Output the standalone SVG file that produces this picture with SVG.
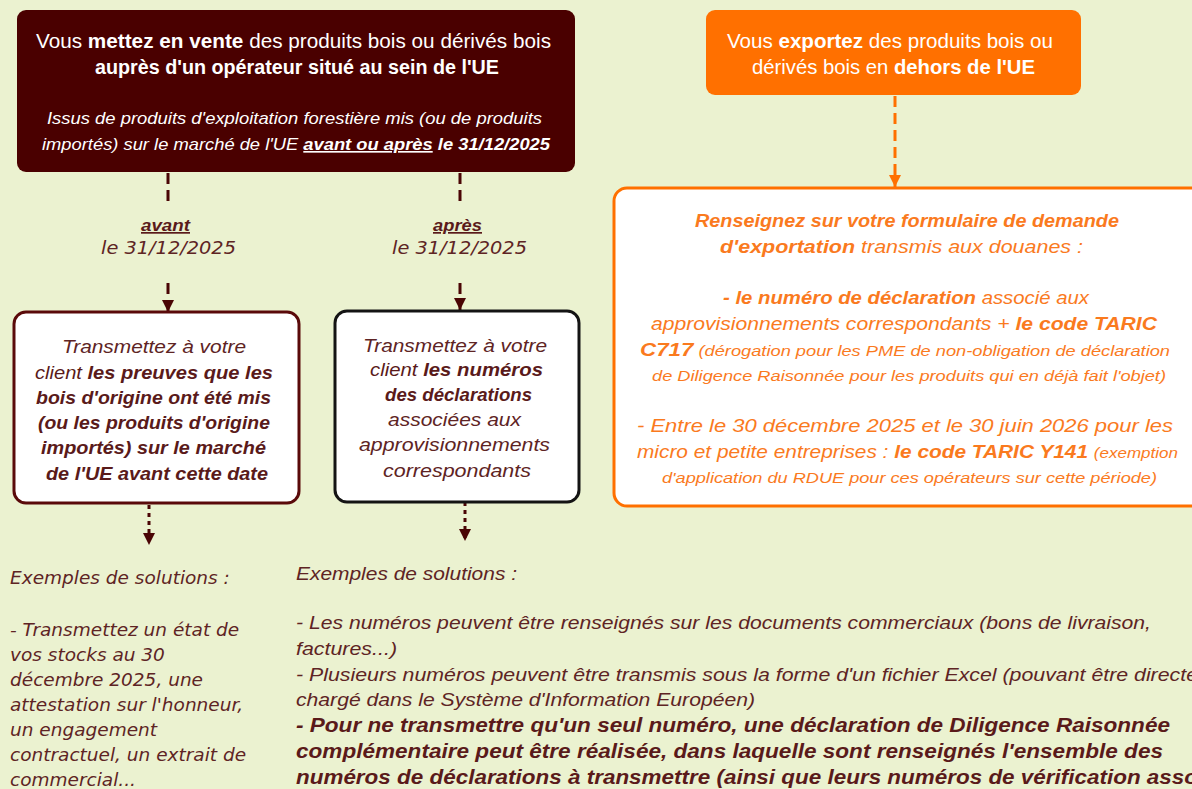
<svg xmlns="http://www.w3.org/2000/svg" width="1192" height="789" viewBox="0 0 1192 789">
<style>
.t{font-family:"Liberation Sans",Arial,sans-serif}
.v{font-family:"DejaVu Sans",Verdana,sans-serif}
.b{font-weight:bold}
.i{font-style:italic}
.u{text-decoration:underline}
.w{fill:#ffffff}
.o{fill:#FA7A1E}
.m{fill:#5A1A1A}
.mx{fill:#5E2424}
</style>
<defs>
<marker id="am" markerUnits="userSpaceOnUse" markerWidth="12" markerHeight="12" viewBox="0 0 12 12" refX="12" refY="6" orient="auto"><path d="M0,0 L12,6 L0,12 z" fill="#4A0505"/></marker>
<marker id="ao" markerUnits="userSpaceOnUse" markerWidth="12" markerHeight="12" viewBox="0 0 12 12" refX="12" refY="6" orient="auto"><path d="M0,0 L12,6 L0,12 z" fill="#FF7000"/></marker>
</defs>
<rect width="1192" height="789" fill="#EBF2D0"/>

<g id="connectors">
<path d="M168,173 V202" stroke="#4A0505" stroke-width="3" stroke-dasharray="11,6" fill="none"/>
<path d="M168,283 V312" stroke="#4A0505" stroke-width="3" stroke-dasharray="11,6" fill="none" marker-end="url(#am)"/>
<path d="M460,173 V202" stroke="#4A0505" stroke-width="3" stroke-dasharray="11,6" fill="none"/>
<path d="M460,283 V310" stroke="#4A0505" stroke-width="3" stroke-dasharray="11,6" fill="none" marker-end="url(#am)"/>
<path d="M895,96 V187" stroke="#FF7000" stroke-width="3" stroke-dasharray="11,6" fill="none" marker-end="url(#ao)"/>
<path d="M149,505 V545" stroke="#4A0505" stroke-width="3" stroke-dasharray="4,4" fill="none" marker-end="url(#am)"/>
<path d="M465,502 V541" stroke="#4A0505" stroke-width="3" stroke-dasharray="4,4" fill="none" marker-end="url(#am)"/>
</g>

<g id="n-vente">
<rect x="17" y="10" width="558" height="162" rx="9" fill="#4A0000"/>
<text class="t w" x="36" y="48" font-size="20" textLength="515" lengthAdjust="spacingAndGlyphs">Vous <tspan class="b">mettez en vente</tspan> des produits bois ou dérivés bois</text>
<text class="t w b" x="95" y="74" font-size="20" textLength="404" lengthAdjust="spacingAndGlyphs">auprès d'un opérateur situé au sein de l'UE</text>
<text class="t w i" x="47" y="124" font-size="16.5" textLength="495" lengthAdjust="spacingAndGlyphs">Issus de produits d'exploitation forestière mis  (ou de produits</text>
<text class="t w i" x="42" y="150" font-size="16.5" textLength="508" lengthAdjust="spacingAndGlyphs">importés) sur le marché de l'UE <tspan class="b u">avant ou après</tspan> <tspan class="b">le 31/12/2025</tspan></text>
</g>

<g id="l-avant">
<text class="t b i u m" x="141" y="231" font-size="17" textLength="49" lengthAdjust="spacingAndGlyphs">avant</text>
<text class="v i mx" x="101" y="254" font-size="17" textLength="135" lengthAdjust="spacingAndGlyphs">le 31/12/2025</text>
</g>
<g id="l-apres">
<text class="t b i u m" x="433" y="231" font-size="17" textLength="49" lengthAdjust="spacingAndGlyphs">après</text>
<text class="v i mx" x="392" y="254" font-size="17" textLength="135" lengthAdjust="spacingAndGlyphs">le 31/12/2025</text>
</g>

<g id="n-export">
<rect x="706" y="10" width="375" height="85" rx="9" fill="#FF7000"/>
<text class="t w" x="727" y="48" font-size="20" textLength="326" lengthAdjust="spacingAndGlyphs">Vous <tspan class="b">exportez</tspan> des produits bois ou</text>
<text class="t w" x="752" y="74" font-size="20" textLength="283" lengthAdjust="spacingAndGlyphs">dérivés bois en <tspan class="b">dehors de l'UE</tspan></text>
</g>

<g id="n-formulaire">
<rect x="614" y="188" width="600" height="318" rx="13" fill="#ffffff" stroke="#FF7000" stroke-width="3"/>
<text class="t o b i" x="695" y="227" font-size="19" textLength="424" lengthAdjust="spacingAndGlyphs">Renseignez sur votre formulaire de demande</text>
<text class="t o i" x="720" y="253" font-size="19" textLength="363" lengthAdjust="spacingAndGlyphs"><tspan class="b">d'exportation</tspan> transmis aux douanes :</text>
<text class="t o i" x="723" y="304" font-size="19" textLength="366" lengthAdjust="spacingAndGlyphs"><tspan class="b">- le numéro de déclaration</tspan> associé aux</text>
<text class="t o i" x="651" y="330" font-size="19" textLength="506" lengthAdjust="spacingAndGlyphs">approvisionnements correspondants + <tspan class="b">le code TARIC</tspan></text>
<text class="t o i" x="640" y="356" font-size="15.5" textLength="530" lengthAdjust="spacingAndGlyphs"><tspan class="b" font-size="19">C717</tspan> (dérogation pour les PME de non-obligation de déclaration</text>
<text class="t o i" x="652" y="381" font-size="15.5" textLength="514" lengthAdjust="spacingAndGlyphs">de Diligence Raisonnée pour les produits qui en déjà fait l'objet)</text>
<text class="t o i" x="637" y="432" font-size="19" textLength="536" lengthAdjust="spacingAndGlyphs">- Entre le 30 décembre 2025 et le 30 juin 2026 pour les</text>
<text class="t o i" x="637" y="458" font-size="19" textLength="541" lengthAdjust="spacingAndGlyphs">micro et petite entreprises : <tspan class="b">le code TARIC Y141</tspan> <tspan font-size="15.5">(exemption</tspan></text>
<text class="t o i" x="662" y="483" font-size="15.5" textLength="495" lengthAdjust="spacingAndGlyphs">d'application du RDUE pour ces opérateurs sur cette période)</text>
</g>

<g id="n-preuves">
<rect x="14" y="312" width="285" height="191" rx="12" fill="#ffffff" stroke="#5A0A0A" stroke-width="3"/>
<text class="t i mx" x="62" y="353" font-size="19" textLength="184" lengthAdjust="spacingAndGlyphs">Transmettez à votre</text>
<text class="t i m" x="35" y="379" font-size="19" textLength="238" lengthAdjust="spacingAndGlyphs">client <tspan class="b">les preuves que les</tspan></text>
<text class="t i b m" x="36" y="404" font-size="19" textLength="235" lengthAdjust="spacingAndGlyphs">bois d'origine ont été mis</text>
<text class="t i b m" x="38" y="429" font-size="19" textLength="232" lengthAdjust="spacingAndGlyphs">(ou les produits d'origine</text>
<text class="t i b m" x="41" y="454" font-size="19" textLength="225" lengthAdjust="spacingAndGlyphs">importés) sur le marché</text>
<text class="t i b m" x="46" y="480" font-size="19" textLength="222" lengthAdjust="spacingAndGlyphs">de l'UE avant cette date</text>
</g>

<g id="n-numeros">
<rect x="335" y="311" width="244" height="191" rx="12" fill="#ffffff" stroke="#141414" stroke-width="3"/>
<text class="t i mx" x="363" y="352" font-size="19" textLength="184" lengthAdjust="spacingAndGlyphs">Transmettez à votre</text>
<text class="t i m" x="370" y="376" font-size="19" textLength="173" lengthAdjust="spacingAndGlyphs">client <tspan class="b">les numéros</tspan></text>
<text class="t i b m" x="385" y="401" font-size="19" textLength="147" lengthAdjust="spacingAndGlyphs">des déclarations</text>
<text class="t i mx" x="388" y="426" font-size="19" textLength="133" lengthAdjust="spacingAndGlyphs">associées aux</text>
<text class="t i mx" x="359" y="451" font-size="19" textLength="191" lengthAdjust="spacingAndGlyphs">approvisionnements</text>
<text class="t i mx" x="383" y="477" font-size="19" textLength="148" lengthAdjust="spacingAndGlyphs">correspondants</text>
</g>

<g id="ex-avant">
<text class="v i mx" font-size="18.5">
<tspan x="10" y="584">Exemples de solutions :</tspan>
<tspan x="10" y="636">- Transmettez un état de</tspan>
<tspan x="10" y="661">vos stocks au 30</tspan>
<tspan x="10" y="686">décembre 2025, une</tspan>
<tspan x="10" y="711">attestation sur l'honneur,</tspan>
<tspan x="10" y="736">un engagement</tspan>
<tspan x="10" y="761">contractuel, un extrait de</tspan>
<tspan x="10" y="786">commercial...</tspan>
</text>
</g>

<g id="ex-apres">
<text class="t i mx" x="296" y="580" font-size="19" textLength="221" lengthAdjust="spacingAndGlyphs">Exemples de solutions :</text>
<text class="t i mx" x="296" y="629" font-size="19" textLength="855" lengthAdjust="spacingAndGlyphs">- Les numéros peuvent être renseignés sur les documents commerciaux (bons de livraison,</text>
<text class="t i mx" x="296" y="655" font-size="19" textLength="101" lengthAdjust="spacingAndGlyphs">factures...)</text>
<text class="t i mx" x="296" y="681" font-size="19" textLength="902" lengthAdjust="spacingAndGlyphs">- Plusieurs numéros peuvent être transmis sous la forme d'un fichier Excel (pouvant être directe</text>
<text class="t i mx" x="296" y="706" font-size="19" textLength="459" lengthAdjust="spacingAndGlyphs">chargé dans le Système d'Information Européen)</text>
<text class="t i b m" x="296" y="732" font-size="20" textLength="874" lengthAdjust="spacingAndGlyphs">- Pour ne transmettre qu'un seul numéro, une déclaration de Diligence Raisonnée</text>
<text class="t i b m" x="296" y="758" font-size="20" textLength="867" lengthAdjust="spacingAndGlyphs">complémentaire peut être réalisée, dans laquelle sont renseignés l'ensemble des</text>
<text class="t i b m" x="296" y="784" font-size="20" textLength="902" lengthAdjust="spacingAndGlyphs">numéros de déclarations à transmettre (ainsi que leurs numéros de vérification asso</text>
</g>
</svg>
